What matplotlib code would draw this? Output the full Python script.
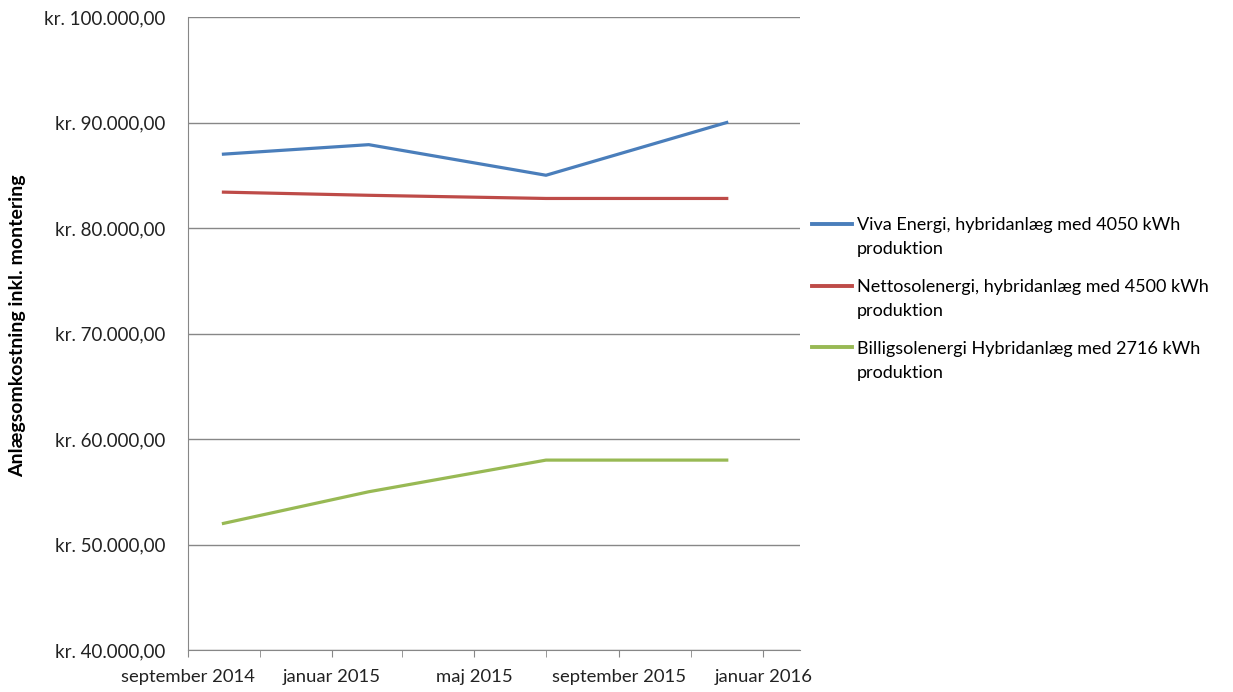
import datetime as dt
import matplotlib
matplotlib.use("Agg")
import matplotlib.pyplot as plt
import matplotlib.dates as mdates
from matplotlib.ticker import FuncFormatter

plt.rcParams['font.family'] = ['Lato', 'DejaVu Sans']

# data
dates = [dt.date(2014, 10, 1), dt.date(2015, 2, 1), dt.date(2015, 7, 1), dt.date(2015, 12, 1)]
viva = [87000, 87900, 85000, 90000]
netto = [83400, 83100, 82800, 82800]
billig = [52000, 55000, 58000, 58000]
labels = ["Viva Energi, hybridanlæg med 4050 kWh",
          "Nettosolenergi, hybridanlæg med 4500 kWh",
          "Billigsolenergi Hybridanlæg med 2716 kWh"]
label_line2 = "produktion"
colors = ["#4A7EBB", "#BE4B48", "#98B954"]
months_da = ["januar", "februar", "marts", "april", "maj", "juni", "juli",
             "august", "september", "oktober", "november", "december"]

W, H = 1233, 692
fig = plt.figure(figsize=(W / 100, H / 100), dpi=100)
ax = fig.add_axes([188/W, 42/H, 612/W, 633/H])

for vals, lab, c in zip([viva, netto, billig], labels, colors):
    ax.plot(dates, vals, color=c, lw=2.3, label=lab)

ax.set_ylim(40000, 100000)
ax.set_yticks(range(40000, 100001, 10000))
ax.yaxis.set_major_formatter(FuncFormatter(
    lambda v, p: "kr. " + f"{v:,.2f}".replace(",", "X").replace(".", ",").replace("X", ".")))
ax.grid(axis='y', color='#878787', lw=1)
ax.set_axisbelow(True)

ax.set_xlim(dt.date(2014, 9, 1), dt.date(2016, 2, 1))
ax.xaxis.set_major_locator(mdates.MonthLocator(bymonth=[1, 5, 9]))
ax.xaxis.set_minor_locator(mdates.MonthLocator(bymonth=[3, 7, 11]))
ax.xaxis.set_major_formatter(FuncFormatter(
    lambda v, p: f"{months_da[mdates.num2date(v).month - 1]} {mdates.num2date(v).year}"))

for s in ['top', 'right']:
    ax.spines[s].set_visible(False)
for s in ['left', 'bottom']:
    ax.spines[s].set_color('#878787')
ax.tick_params(axis='x', which='both', length=5, color='#878787', direction='out')
ax.tick_params(axis='x', which='major', labelsize=13.3, pad=9, labelcolor='#222222')
ax.tick_params(axis='y', length=0, labelsize=13.5, pad=16, labelcolor='#222222')

ax.set_ylabel("Anlægsomkostning inkl. montering", fontsize=14, fontweight='bold')
ax.yaxis.set_label_coords(-0.265, 0.513)

leg = fig.legend(loc='upper left', bbox_to_anchor=(812/W, 1 - 217/H), frameon=False,
                 fontsize=13, handlelength=2.2, handletextpad=0.3, labelspacing=2.54,
                 borderpad=0, borderaxespad=0)
for line in leg.get_lines():
    line.set_linewidth(2.8)

# second line of each legend label, placed under the first
fig.canvas.draw()
for t in leg.get_texts():
    bb = t.get_window_extent()
    fig.text(bb.x0 / W, (bb.y0 - 24) / H, label_line2, fontsize=13,
             color=t.get_color(), ha='left', va='bottom')

fig.savefig("out.png", dpi=100)
